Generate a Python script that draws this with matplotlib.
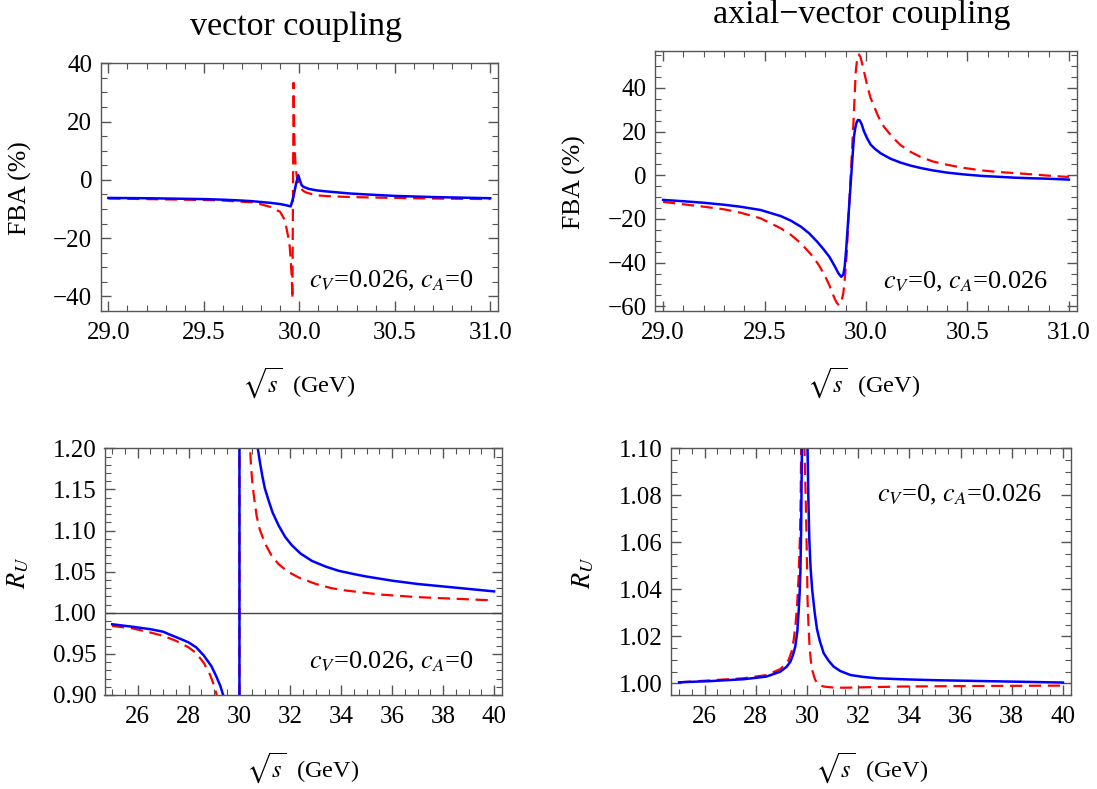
import matplotlib
matplotlib.use("Agg")
import matplotlib.pyplot as plt
from matplotlib.ticker import MultipleLocator, FormatStrFormatter

plt.rcParams['font.family'] = ['Liberation Serif', 'DejaVu Serif']
plt.rcParams['mathtext.fontset'] = 'stix'

W, H = 1097, 789

# --- top left: FBA, vector coupling (sqrt(s) 29..31) ---
fv_x_blue = [29.0, 29.2, 29.4, 29.5, 29.6, 29.7, 29.75, 29.8, 29.85, 29.9, 29.93, 29.955,
             29.969, 29.983, 29.995, 30.005, 30.012, 30.02, 30.03, 30.05, 30.09, 30.13, 30.2,
             30.27, 30.35, 30.5, 30.7, 30.85, 31.0]
fv_y_blue = [-6.2, -6.3, -6.5, -6.6, -6.8, -7.1, -7.3, -7.6, -7.9, -8.3, -8.7, -9.1,
             -5.9, -1.3, 1.6, -0.5, -1.8, -2.3, -2.6, -3.1, -3.6, -3.9, -4.3,
             -4.7, -5.0, -5.5, -5.9, -6.1, -6.3]
fv_x_red = [29.0, 29.2, 29.4, 29.5, 29.6, 29.7, 29.75, 29.8, 29.85, 29.9, 29.925, 29.942,
            29.95, 29.955, 29.96, 29.964, 29.970, 29.972, 29.974, 29.977, 29.981, 29.987,
            29.995, 30.005, 30.021, 30.035, 30.05, 30.09, 30.15, 30.27, 30.5, 30.7, 31.0]
fv_y_red = [-6.4, -6.6, -6.8, -6.9, -7.1, -7.5, -7.7, -8.4, -9.3, -11.0, -13.9, -19.6,
            -23.0, -27.6, -33.0, -40.8, 33.3, 24.0, 14.8, 9.0, 4.5, 1.0,
            -1.3, -2.6, -3.8, -4.3, -4.6, -5.3, -5.6, -5.9, -6.2, -6.4, -6.6]

# --- top right: FBA, axial-vector coupling ---
fa_x_blue = [29.0, 29.1, 29.2, 29.3, 29.38, 29.48, 29.58, 29.63, 29.68, 29.72, 29.76, 29.79,
             29.82, 29.845, 29.865, 29.878, 29.888, 29.895, 29.903, 29.911, 29.92, 29.928,
             29.935, 29.941, 29.947, 29.953, 29.96, 29.968, 29.978, 29.99, 30.005, 30.023,
             30.045, 30.073, 30.12, 30.17, 30.22, 30.27, 30.33, 30.4, 30.48, 30.57, 30.65,
             30.73, 30.82, 30.9, 31.0]
fa_y_blue = [-11.3, -11.9, -12.6, -13.5, -14.4, -15.9, -18.7, -20.8, -23.6, -26.6, -30.5, -33.8,
             -37.4, -41.5, -45.0, -46.5, -45.5, -41.9, -33.0, -22.0, -10.0, 1.0,
             10.5, 17.8, 21.5, 24.0, 25.3, 25.2, 23.5, 20.1, 17.0, 14.0,
             12.0, 10.0, 7.6, 5.8, 4.4, 3.3, 2.2, 1.2, 0.4, -0.3, -0.7,
             -1.1, -1.4, -1.6, -2.0]
fa_x_red = [29.0, 29.1, 29.2, 29.3, 29.38, 29.48, 29.58, 29.63, 29.68, 29.74, 29.77, 29.8,
            29.82, 29.842, 29.855, 29.867, 29.878, 29.888, 29.897, 29.905, 29.913, 29.921,
            29.93, 29.938, 29.944, 29.949, 29.956, 29.965, 29.973, 29.982, 29.995, 30.007,
            30.022, 30.04, 30.056, 30.073, 30.09, 30.13, 30.17, 30.22, 30.27, 30.33, 30.4,
            30.48, 30.57, 30.65, 30.73, 30.82, 30.9, 31.0]
fa_y_red = [-12.2, -13.3, -14.4, -15.6, -17.1, -19.7, -24.3, -27.3, -31.2, -37.4, -41.5, -46.5,
            -50.5, -55.7, -58.3, -59.5, -58.0, -54.2, -46.0, -35.8, -21.0, -6.7,
            9.0, 23.9, 36.0, 46.9, 53.0, 55.3, 54.0, 50.7, 45.5, 40.7,
            35.5, 31.5, 27.8, 24.5, 22.0, 17.5, 13.8, 10.7, 8.3, 6.3, 4.8,
            3.4, 2.2, 1.5, 1.0, 0.4, -0.2, -0.8]

# --- bottom left: R_U, vector coupling (sqrt(s) 25..40) ---
rv_x_blue = [25.0, 25.8, 26.5, 27.0, 27.3, 27.7, 28.0, 28.3, 28.6, 28.9, 29.1, 29.25, 29.37,
             29.6, 29.999, 30.001, 30.4, 30.72, 30.8, 30.9, 31.0, 31.14, 31.3, 31.54, 31.8,
             32.06, 32.4, 32.85, 33.4, 33.9, 34.5, 35.0, 36.0, 37.0, 38.0, 39.0, 40.0]
rv_y_blue = [0.986, 0.983, 0.980, 0.977, 0.973, 0.968, 0.964, 0.958, 0.948, 0.935, 0.922, 0.911,
             0.899, 0.85, -2.0, 4.0, 1.5, 1.200, 1.184, 1.166, 1.151, 1.137, 1.122, 1.106, 1.092,
             1.082, 1.072, 1.063, 1.056, 1.051, 1.047, 1.044, 1.039, 1.035, 1.032, 1.029, 1.026]
rv_x_red = [25.0, 25.8, 26.5, 27.0, 27.5, 28.0, 28.3, 28.6, 28.84, 29.0, 29.1, 29.3, 29.999,
            30.001, 30.2, 30.42, 30.45, 30.51, 30.6, 30.68, 30.8, 31.01, 31.25, 31.54, 31.9,
            32.32, 33.0, 33.6, 34.2, 35.0, 35.6, 37.0, 38.5, 40.0]
rv_y_red = [0.984, 0.981, 0.976, 0.972, 0.966, 0.958, 0.951, 0.939, 0.925, 0.912, 0.901, 0.85,
            -2.0, 4.0, 1.5, 1.200, 1.180, 1.157, 1.134, 1.117, 1.101, 1.084, 1.070, 1.059, 1.050,
            1.043, 1.035, 1.030, 1.027, 1.024, 1.022, 1.019, 1.017, 1.015]

# --- bottom right: R_U, axial-vector coupling ---
ra_x_blue = [25.0, 26.2, 27.5, 28.4, 28.95, 29.2, 29.35, 29.45, 29.54, 29.62, 29.67, 29.71,
             29.74, 29.77, 29.80, 29.91, 30.02, 30.05, 30.09, 30.14, 30.2, 30.3, 30.39, 30.5,
             30.65, 30.85, 31.04, 31.3, 31.7, 32.2, 32.75, 33.7, 35.0, 36.0, 38.0, 40.0]
ra_y_blue = [1.0004, 1.0009, 1.0017, 1.0028, 1.0049, 1.0070, 1.0092, 1.0120, 1.0156, 1.022,
             1.030, 1.038, 1.047, 1.065, 1.100, 1.25, 1.100, 1.080, 1.061, 1.049, 1.040, 1.030,
             1.023, 1.018, 1.0128, 1.0095, 1.0071, 1.0052, 1.0035, 1.0027, 1.0021, 1.0017,
             1.0013, 1.0011, 1.0007, 1.0003]
ra_x_red = [25.0, 27.5, 28.43, 28.95, 29.15, 29.28, 29.4, 29.48, 29.55, 29.61, 29.67, 29.72,
            29.75, 29.77, 29.84, 29.90, 29.94, 29.97, 30.0, 30.02, 30.06, 30.10, 30.15, 30.20,
            30.3, 30.39, 30.5, 30.65, 31.0, 31.44, 33.66, 36.0, 40.0]
ra_y_red = [1.0004, 1.0021, 1.0035, 1.0060, 1.0080, 1.0099, 1.0135, 1.0185, 1.025, 1.0327,
            1.045, 1.061, 1.078, 1.100, 1.20, 1.100, 1.082, 1.068, 1.050, 1.0356, 1.024, 1.0156,
            1.0095, 1.0057, 1.002, 1.000, 0.9992, 0.9986, 0.9982, 0.9981, 0.9986, 0.9988, 0.999]

fig = plt.figure(figsize=(W / 100, H / 100), dpi=100)


def add_ax(left, top, right, bottom):
    # axes placed by pixel box of the frame
    return fig.add_axes([left / W, 1 - bottom / H, (right - left) / W, (bottom - top) / H])


def style(ax):
    for sp in ax.spines.values():
        sp.set_color('#555555')
        sp.set_linewidth(1.0)
    ax.tick_params(which='both', direction='in', top=True, right=True,
                   colors='#555555', labelcolor='black', labelsize=18)
    ax.tick_params(which='major', length=7, width=1.0)
    ax.tick_params(which='minor', length=4, width=0.8)
    ax.tick_params(axis='x', which='major', pad=8)
    ax.tick_params(axis='y', which='major', pad=6)


def draw(ax, xb, yb, xr, yr):
    ax.plot(xr, yr, color='red', lw=1.6, dashes=(5.5, 3))
    ax.plot(xb, yb, color='blue', lw=1.8)


ax1 = add_ax(100.7, 63.3, 497.9, 311)
ax2 = add_ax(655, 50.7, 1077, 310.7)
ax3 = add_ax(104.5, 448.3, 501.7, 695)
ax4 = add_ax(671.4, 448.3, 1070.6, 695)

draw(ax1, fv_x_blue, fv_y_blue, fv_x_red, fv_y_red)
ax1.set_xlim(28.96, 31.04)
ax1.set_ylim(-45, 40)
ax1.xaxis.set_major_locator(MultipleLocator(0.5))
ax1.xaxis.set_minor_locator(MultipleLocator(0.1))
ax1.xaxis.set_major_formatter(FormatStrFormatter('%.1f'))
ax1.yaxis.set_major_locator(MultipleLocator(20))
ax1.yaxis.set_minor_locator(MultipleLocator(5))

draw(ax2, fa_x_blue, fa_y_blue, fa_x_red, fa_y_red)
ax2.set_xlim(28.96, 31.04)
ax2.set_ylim(-62, 57)
ax2.xaxis.set_major_locator(MultipleLocator(0.5))
ax2.xaxis.set_minor_locator(MultipleLocator(0.1))
ax2.xaxis.set_major_formatter(FormatStrFormatter('%.1f'))
ax2.yaxis.set_major_locator(MultipleLocator(20))
ax2.yaxis.set_minor_locator(MultipleLocator(5))

ax3.axhline(1.0, color='#444444', lw=1.0)
draw(ax3, rv_x_blue, rv_y_blue, rv_x_red, rv_y_red)
ax3.set_xlim(24.7, 40.3)
ax3.set_ylim(0.90, 1.20)
ax3.xaxis.set_major_locator(MultipleLocator(2))
ax3.xaxis.set_minor_locator(MultipleLocator(0.5))
ax3.yaxis.set_major_locator(MultipleLocator(0.05))
ax3.yaxis.set_minor_locator(MultipleLocator(0.01))
ax3.yaxis.set_major_formatter(FormatStrFormatter('%.2f'))

draw(ax4, ra_x_blue, ra_y_blue, ra_x_red, ra_y_red)
ax4.set_xlim(24.7, 40.3)
ax4.set_ylim(0.995, 1.10)
ax4.xaxis.set_major_locator(MultipleLocator(2))
ax4.xaxis.set_minor_locator(MultipleLocator(0.5))
ax4.yaxis.set_major_locator(MultipleLocator(0.02))
ax4.yaxis.set_minor_locator(MultipleLocator(0.005))
ax4.yaxis.set_major_formatter(FormatStrFormatter('%.2f'))

for ax in (ax1, ax2, ax3, ax4):
    style(ax)

# annotations
ax1.text(0.94, 0.095, r'$c_V$=0.026, $c_A$=0', transform=ax1.transAxes,
         ha='right', va='baseline', fontsize=19)
ax2.text(0.932, 0.086, r'$c_V$=0, $c_A$=0.026', transform=ax2.transAxes,
         ha='right', va='baseline', fontsize=19)
ax3.text(0.93, 0.108, r'$c_V$=0.026, $c_A$=0', transform=ax3.transAxes,
         ha='right', va='baseline', fontsize=19)
ax4.text(0.928, 0.784, r'$c_V$=0, $c_A$=0.026', transform=ax4.transAxes,
         ha='right', va='baseline', fontsize=19)

# titles and axis labels
fig.text(296 / W, 1 - 35 / H, 'vector coupling', ha='center', va='baseline', fontsize=24.5)
fig.text(862 / W, 1 - 23 / H, 'axial\u2212vector coupling', ha='center', va='baseline',
         fontsize=24.5)

fig.text(20 / W, 1 - 188 / H, 'FBA (%)', rotation=90, ha='center', va='center', fontsize=18.5)
fig.text(574 / W, 1 - 182 / H, 'FBA (%)', rotation=90, ha='center', va='center', fontsize=18.5)
fig.text(18 / W, 1 - 573 / H, r'$R_U$', rotation=90, ha='center', va='center', fontsize=19)
fig.text(583 / W, 1 - 573 / H, r'$R_U$', rotation=90, ha='center', va='center', fontsize=19)

xlab = r'$\sqrt{s}$  (GeV)'
fig.text(299 / W, 1 - 383 / H, xlab, ha='center', va='center', fontsize=17.5)
fig.text(864 / W, 1 - 383 / H, xlab, ha='center', va='center', fontsize=17.5)
fig.text(303 / W, 1 - 768 / H, xlab, ha='center', va='center', fontsize=17.5)
fig.text(872 / W, 1 - 768 / H, xlab, ha='center', va='center', fontsize=17.5)

fig.savefig('out.png', dpi=100)
